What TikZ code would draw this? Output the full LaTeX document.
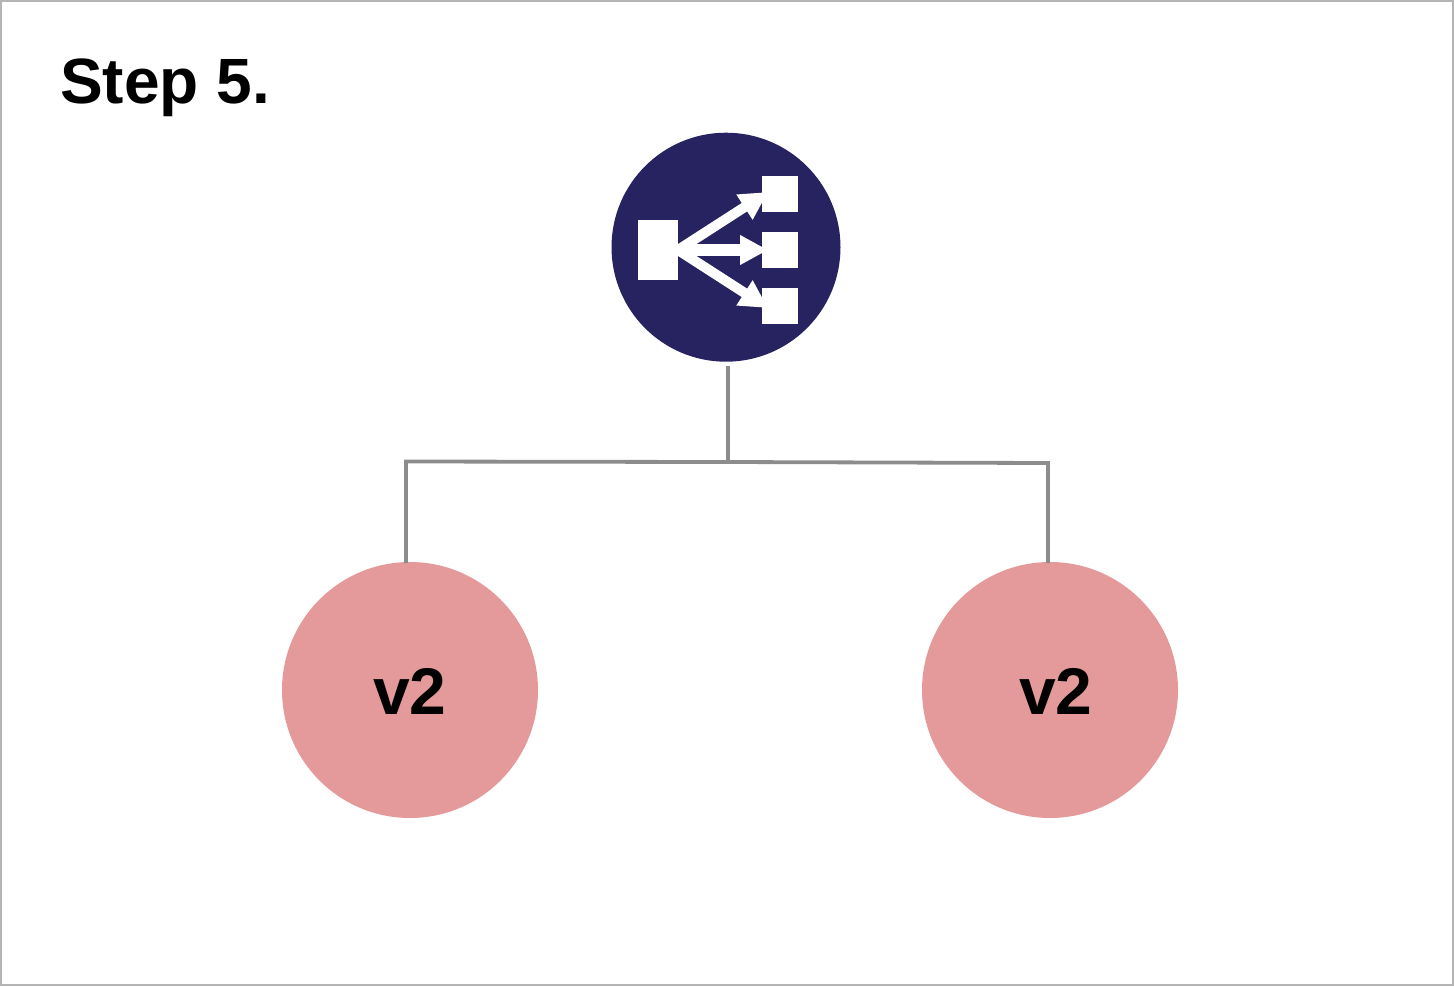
\documentclass[tikz,border=0pt]{standalone}
\usepackage{fontspec}
\setmainfont{Liberation Sans}
\usetikzlibrary{arrows.meta}
\definecolor{navy}{HTML}{272361}
\definecolor{pinkc}{HTML}{E49A9A}
\definecolor{wire}{HTML}{8C8C8C}
\definecolor{frame}{HTML}{B4B4B4}
\tikzset{
  x=1pt,y=-1pt,
  sq/.style={fill=white,draw=none,inner sep=0pt,minimum width=#1,minimum height=36pt,rectangle},
  arr/.style={draw=white,line width=#1,-{Triangle[length=28pt,width=28pt,fill=white]}},
  wireline/.style={draw=wire,line width=3.8pt},
  vnode/.style={circle,fill=pinkc,draw=none,minimum size=256pt,inner sep=0pt},
  lbl/.style={inner sep=0pt,anchor=base west},
}
\begin{document}
\begin{tikzpicture}
\useasboundingbox (0,0) rectangle (1454,986);
\draw[frame,line width=2pt] (1,1) rectangle (1453,985);
\node[circle,fill=navy,draw=none,minimum size=229pt,inner sep=0pt] (lb) at (726,247.2) {};
\node[sq=40pt,minimum height=60pt] (src) at (658,250) {};
\node[sq=36pt] (d1) at (780,194) {};
\node[sq=36pt] (d2) at (780,250) {};
\node[sq=36pt] (d3) at (780,306) {};
\coordinate (s) at (678,250);
\coordinate (t1) at (768,192);
\coordinate (t2) at (768,250);
\coordinate (t3) at (768,308);
\draw[arr=10pt] (s) -- (t1);
\draw[arr=12pt] (s) -- (t2);
\draw[arr=10pt] (s) -- (t3);
\node[sq=40pt,minimum height=60pt] at (src) {};
\node[sq=36pt] at (d1) {};
\node[sq=36pt] at (d2) {};
\node[sq=36pt] at (d3) {};
\node[vnode] (v1) at (410,690) {};
\node[vnode] (v2) at (1050,690) {};
\coordinate (top) at (728,366);
\coordinate (mid) at (728,462);
\coordinate (hl) at (406,461.5);
\coordinate (hr) at (1048,463);
\coordinate (bl) at (406,563);
\coordinate (br) at (1048,563);
\draw[wireline] (top) -- (mid);
\draw[wireline,line join=miter] (bl) -- (hl) -- (mid) -- (hr) -- (br);
\node[lbl,font=\fontsize{64}{64}\selectfont\bfseries] (title) at (60,103) {Step 5.};
\node[lbl,font=\fontsize{66}{66}\selectfont\bfseries] (t1l) at (373,714) {v2};
\node[lbl,font=\fontsize{66}{66}\selectfont\bfseries] (t2l) at (1019,714) {v2};
\end{tikzpicture}
\end{document}
